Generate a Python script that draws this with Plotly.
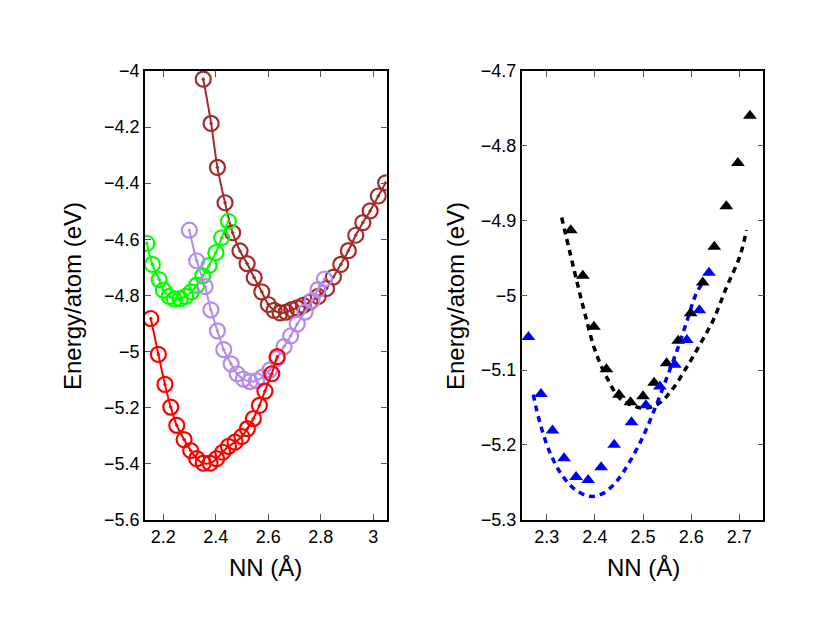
import plotly.graph_objects as go

# left panel: four relaxation curves (open circles + solid lines)
brown_x = [2.352, 2.382, 2.406, 2.435, 2.464, 2.492, 2.519, 2.546, 2.575, 2.600, 2.622, 2.645, 2.668, 2.689,
           2.710, 2.733, 2.759, 2.790, 2.822, 2.848, 2.876, 2.905, 2.933, 2.960, 2.988, 3.019, 3.047]
brown_y = [-4.029, -4.187, -4.344, -4.470, -4.577, -4.642, -4.687, -4.737, -4.788, -4.833, -4.854, -4.863, -4.860,
           -4.851, -4.845, -4.836, -4.824, -4.804, -4.776, -4.735, -4.690, -4.641, -4.586, -4.541, -4.499, -4.446, -4.399]

green_x = [2.137, 2.158, 2.184, 2.200, 2.222, 2.242, 2.264, 2.285, 2.306, 2.327, 2.350, 2.374, 2.400, 2.422, 2.448]
green_y = [-4.615, -4.690, -4.744, -4.782, -4.804, -4.814, -4.812, -4.804, -4.788, -4.764, -4.731, -4.694,
           -4.648, -4.595, -4.536]

purple_x = [2.299, 2.327, 2.359, 2.381, 2.406, 2.430, 2.458, 2.481, 2.505, 2.530, 2.555, 2.578, 2.606, 2.632,
            2.660, 2.685, 2.710, 2.740, 2.767, 2.789, 2.814]
purple_y = [-4.568, -4.677, -4.769, -4.852, -4.927, -4.994, -5.045, -5.080, -5.099, -5.108, -5.105, -5.092,
            -5.066, -5.026, -4.983, -4.945, -4.903, -4.860, -4.818, -4.780, -4.742]

red_x = [2.152, 2.181, 2.206, 2.228, 2.251, 2.279, 2.304, 2.327, 2.352, 2.378, 2.403, 2.426, 2.448, 2.473,
         2.499, 2.520, 2.543, 2.566, 2.587, 2.613, 2.634]
red_y = [-4.883, -5.011, -5.118, -5.199, -5.264, -5.315, -5.354, -5.383, -5.399, -5.399, -5.383, -5.360,
         -5.339, -5.324, -5.304, -5.276, -5.240, -5.193, -5.142, -5.080, -5.019]

# right panel: triangles + dashed fits
black_x = [2.350, 2.375, 2.398, 2.424, 2.450, 2.474, 2.500, 2.523, 2.549, 2.573, 2.599, 2.624, 2.648, 2.673, 2.697, 2.722]
black_y = [-4.913, -4.974, -5.042, -5.099, -5.133, -5.143, -5.135, -5.117, -5.091, -5.061, -5.024, -4.983,
           -4.935, -4.881, -4.823, -4.760]
blue_x = [2.262, 2.288, 2.312, 2.336, 2.361, 2.386, 2.413, 2.440, 2.476, 2.506, 2.535, 2.566, 2.591, 2.617, 2.637]
blue_y = [-5.056, -5.132, -5.181, -5.218, -5.243, -5.247, -5.230, -5.200, -5.170, -5.147, -5.122, -5.093,
          -5.060, -5.020, -4.970]

black_fit_x = [2.331, 2.362, 2.379, 2.400, 2.424, 2.452, 2.480, 2.507, 2.535, 2.563, 2.590, 2.618, 2.646, 2.673, 2.701, 2.715]
black_fit_y = [-4.896, -4.980, -5.024, -5.073, -5.109, -5.138, -5.148, -5.151, -5.144, -5.124, -5.097, -5.066,
               -5.033, -4.990, -4.948, -4.913]
blue_fit_x = [2.272, 2.286, 2.307, 2.331, 2.359, 2.390, 2.417, 2.445, 2.473, 2.500, 2.525, 2.549, 2.571, 2.590, 2.611, 2.628]
blue_fit_y = [-5.133, -5.171, -5.211, -5.240, -5.260, -5.269, -5.265, -5.249, -5.222, -5.189, -5.151, -5.111,
              -5.073, -5.037, -4.997, -4.980]

FONT = "Liberation Sans, Arial, sans-serif"
W, H, OFF = 830, 642, 8  # page body margin shifts the figure by 8px

fig = go.Figure()

for xs, ys, col in [(brown_x, brown_y, "#a52a2a"), (green_x, green_y, "#00ff00"),
                    (purple_x, purple_y, "#b58af0"), (red_x, red_y, "#ff0000")]:
    fig.add_trace(go.Scatter(x=xs, y=ys, mode="lines+markers", line=dict(color=col, width=2, shape="spline"),
                             marker=dict(symbol="circle-open-dot", size=15, color=col, line=dict(width=2.2, color=col)),
                             xaxis="x", yaxis="y", showlegend=False))

for xs, ys, col in [(black_fit_x, black_fit_y, "black"), (blue_fit_x, blue_fit_y, "#0000ff")]:
    fig.add_trace(go.Scatter(x=xs, y=ys, mode="lines", line=dict(color=col, width=3.5, dash="6px,5px", shape="spline"),
                             xaxis="x2", yaxis="y2", showlegend=False))

for xs, ys, col in [(black_x, black_y, "black"), (blue_x, blue_y, "#0000ff")]:
    fig.add_trace(go.Scatter(x=xs, y=ys, mode="markers", marker=dict(symbol="triangle-up", size=12, color=col),
                             xaxis="x2", yaxis="y2", showlegend=False))

ax = dict(showline=True, linecolor="black", linewidth=1.5, mirror="ticks", ticks="inside", ticklen=6,
          tickcolor="#555555", showgrid=False, zeroline=False, automargin=False,
          tickfont=dict(family=FONT, size=18, color="black"))


def xd(a, b):
    return [(a - OFF) / W, (b - OFF) / W]


def yd(top, bottom):
    return [1 - (bottom - OFF) / H, 1 - (top - OFF) / H]


fig.update_layout(
    width=W, height=H, margin=dict(l=0, r=0, t=0, b=0, autoexpand=False),
    paper_bgcolor="white", plot_bgcolor="white",
    xaxis=dict(ax, domain=xd(145, 386.7), range=[2.13, 3.051], tickvals=[2.2, 2.4, 2.6, 2.8, 3.0],
               ticktext=["2.2", "2.4", "2.6", "2.8", "3"]),
    yaxis=dict(ax, domain=yd(71, 519.5), range=[-5.6, -4.0], dtick=0.2, anchor="x"),
    xaxis2=dict(ax, domain=xd(521.7, 763.3), range=[2.248, 2.7498], dtick=0.1, anchor="y2"),
    yaxis2=dict(ax, domain=yd(71, 519.5), range=[-5.3, -4.7], dtick=0.1, anchor="x2"),
)

titles = [(72, 296, "Energy/atom (eV)", -90), (455, 296, "Energy/atom (eV)", -90),
          (265, 567, "NN (Å)", 0), (643, 567, "NN (Å)", 0)]
for px, py, txt, ang in titles:
    fig.add_annotation(x=(px - OFF) / W, y=1 - (py - OFF) / H, xref="paper", yref="paper", text=txt,
                       textangle=ang, showarrow=False, font=dict(family=FONT, size=24, color="black"),
                       xanchor="center", yanchor="middle")

fig.write_html("out.html")
